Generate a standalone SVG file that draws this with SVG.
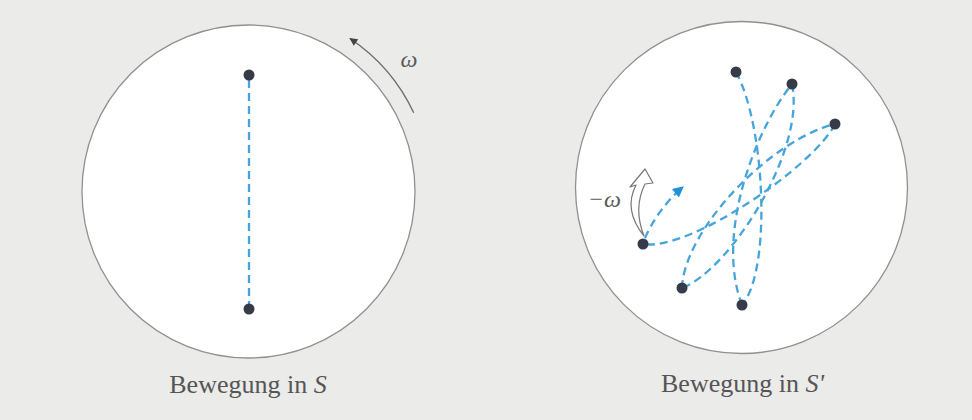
<svg xmlns="http://www.w3.org/2000/svg" width="972" height="420" viewBox="0 0 972 420">
  <style>
    .disk { fill: #ffffff; stroke: #909090; stroke-width: 1.3; }
    .dot { fill: #353b47; }
    .path { fill: none; stroke: #45a5da; stroke-width: 2.3; stroke-dasharray: 8 5; stroke-linecap: butt; }
    .lbl { font-family: "Liberation Serif", "Times New Roman", serif; font-size: 26px; fill: #555555; }
    .sym { font-family: "Liberation Serif", "Times New Roman", serif; font-style: italic; fill: #5a5a5a; }
    .rot { fill: none; stroke: #6a6a6a; stroke-width: 1.4; }
  </style>
  <defs>
    <marker id="headGray" viewBox="0 0 10 10" refX="9" refY="5" markerWidth="11" markerHeight="8" markerUnits="userSpaceOnUse" orient="auto">
      <path d="M0,0 L10,5 L0,10 Z" fill="#444444"/>
    </marker>
    <marker id="headBlue" viewBox="0 0 10 10" refX="9" refY="5" markerWidth="15" markerHeight="11" markerUnits="userSpaceOnUse" orient="auto">
      <path d="M0,0 L10,5 L0,10 Z" fill="#1f93d2"/>
    </marker>
  </defs>

  <rect x="0" y="0" width="972" height="420" fill="#ebebea"/>

  <g id="frame-S">
    <circle class="disk" cx="248.5" cy="191.5" r="166.5"/>
    <path class="rot" d="M413.7,112.7 A183,183 0 0 0 350,38.5" marker-end="url(#headGray)"/>
    <text class="sym" x="409" y="67" font-size="24" text-anchor="middle">ω</text>
    <text class="lbl" x="248" y="393" text-anchor="middle">Bewegung in <tspan font-style="italic">S</tspan></text>
  </g>

  <g id="frame-S-prime">
    <circle class="disk" cx="741.5" cy="187.5" r="166"/>
    <path d="M644,236 Q623,210 636,185 L630,187 L645,169 L653,183 L645,184 Q633,208 644,236 Z" fill="#ffffff" stroke="#777777" stroke-width="1.2" stroke-linejoin="round"/>
    <text class="sym" x="621" y="207" font-size="24" text-anchor="end">−ω</text>
    <text class="lbl" x="742.5" y="392" text-anchor="middle">Bewegung in <tspan font-style="italic">S'</tspan></text>
  </g>

  <g id="connectors">
    <path class="path" d="M249,80 L249,304"/>
    <path class="path" d="M736,72 C765,125 772,270 742,305"/>
    <path class="path" d="M742,305 C715,235 755,130 792,84"/>
    <path class="path" d="M792,84 C806,150 730,270 682,288"/>
    <path class="path" d="M682,288 C684,230 770,140 835,124"/>
    <path class="path" d="M835,124 C815,165 690,252 643,244"/>
    <path class="path" d="M645,238 C652,222 665,202 683,187" marker-end="url(#headBlue)"/>
  </g>

  <g id="masses-S">
    <circle class="dot" cx="249" cy="75" r="5.5"/>
    <circle class="dot" cx="249" cy="309" r="5.5"/>
  </g>

  <g id="masses-S-prime">
    <circle class="dot" cx="736" cy="72" r="5.5"/>
    <circle class="dot" cx="792" cy="84" r="5.5"/>
    <circle class="dot" cx="835" cy="124" r="5.5"/>
    <circle class="dot" cx="643" cy="244" r="5.5"/>
    <circle class="dot" cx="682" cy="288" r="5.5"/>
    <circle class="dot" cx="742" cy="305" r="5.5"/>
  </g>
</svg>
